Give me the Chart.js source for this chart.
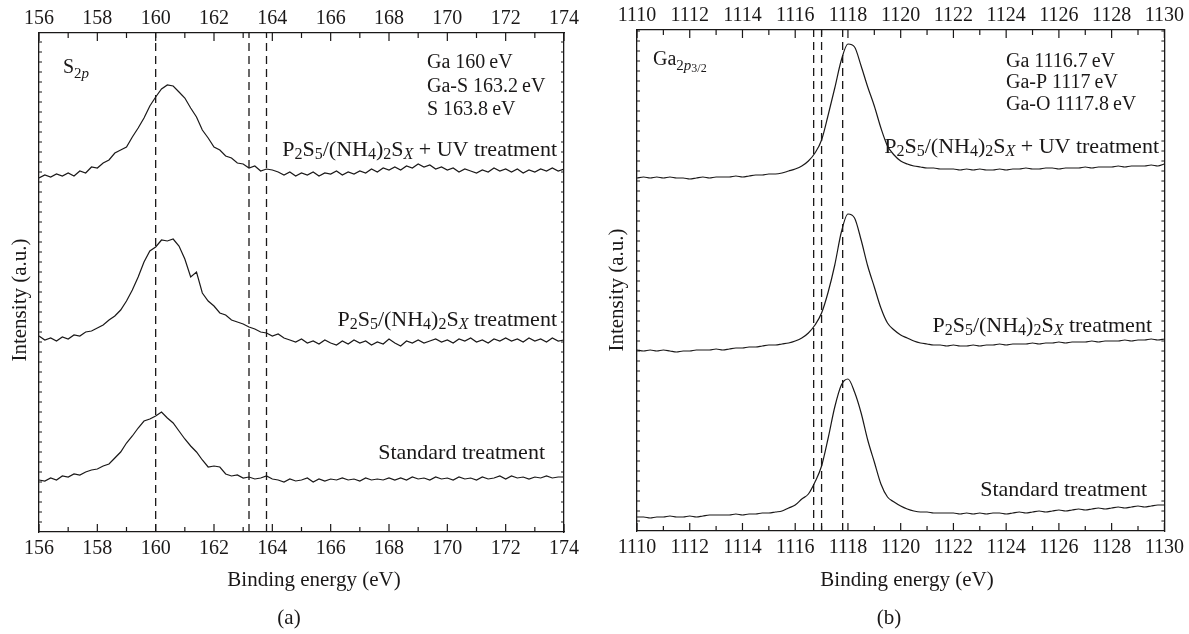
<!DOCTYPE html>
<html>
<head>
<meta charset="utf-8">
<script src="https://cdn.jsdelivr.net/npm/chart.js@4.4.1/dist/chart.umd.min.js"></script>
<style>
html, body { margin: 0; padding: 0; background: #fff; }
#wrap { position: relative; width: 1189px; height: 634px; }
canvas { position: absolute; top: 0; }
#graficoA { left: 0; }
#graficoB { left: 594px; }
</style>
</head>
<body>
<div id="wrap">
    <canvas id="graficoA" width="594" height="634"></canvas>
    <canvas id="graficoB" width="595" height="634"></canvas>
</div>
<script>
// ---- panel (a): S 2p ----
const energiasA = [156,156.2,156.4,156.6,156.8,157,157.2,157.4,157.6,157.8,158,158.2,158.4,158.6,158.8,159,159.2,159.4,159.6,159.8,160,160.2,160.4,160.6,160.8,161,161.2,161.4,161.6,161.8,162,162.2,162.4,162.6,162.8,163,163.2,163.4,163.6,163.8,164,164.2,164.4,164.6,164.8,165,165.2,165.4,165.6,165.8,166,166.2,166.4,166.6,166.8,167,167.2,167.4,167.6,167.8,168,168.2,168.4,168.6,168.8,169,169.2,169.4,169.6,169.8,170,170.2,170.4,170.6,170.8,171,171.2,171.4,171.6,171.8,172,172.2,172.4,172.6,172.8,173,173.2,173.4,173.6,173.8,174];
const uvA = [354,357,355,358,356,359,356,361,359,365, 364,369,372,379,382,385,395,404,414,426, 435,443,447,446,440,434,424,415,402,394, 385,382,376,374,369,368,364,366,361,363, 362,360,357,360,356,359,357,360,356,359, 358,361,357,360,358,361,359,363,360,364, 362,365,362,366,364,368,365,367,363,365, 362,364,360,363,361,359,362,360,364,361, 363,360,363,359,362,360,363,361,364,361, 363];
const p2s5A = [196,192,194,191,195,193,197,196,200,201, 204,207,212,216,222,231,242,255,270,281, 285,292,291,293,286,273,255,260,239,231, 226,219,217,212,210,208,205,203,200,199, 196,198,194,192,190,193,189,191,188,192, 189,187,191,188,192,189,191,187,190,188, 193,189,186,191,189,192,189,191,193,190, 192,189,193,191,194,190,192,189,193,191, 194,191,193,190,194,191,193,190,194,191, 192];
const estandarA = [52,51,54,52,56,55,58,57,60,62, 63,66,68,74,80,89,96,104,111,113, 116,120,114,109,101,93,86,80,72,65, 66,65,58,56,57,54,55,53,54,56, 53,52,50,53,51,52,54,50,53,51, 53,52,54,52,53,51,54,52,53,52, 54,52,54,52,55,53,54,52,55,53, 54,52,55,53,54,52,55,53,54,56, 53,56,54,55,53,55,54,56,54,55, 55];
const picosA = [160, 163.2, 163.8];
const notasA = ['Ga 160\u2009eV', 'Ga-S 163.2\u2009eV', 'S 163.8\u2009eV'];

// ---- panel (b): Ga 2p3/2 ----
const energiasB = [1110,1110.25,1110.5,1110.75,1111,1111.25,1111.5,1111.75,1112,1112.25,1112.5,1112.75,1113,1113.25,1113.5,1113.75,1114,1114.25,1114.5,1114.75,1115,1115.25,1115.5,1115.75,1116,1116.25,1116.5,1116.75,1117,1117.25,1117.5,1117.75,1118,1118.25,1118.5,1118.75,1119,1119.25,1119.5,1119.75,1120,1120.25,1120.5,1120.75,1121,1121.25,1121.5,1121.75,1122,1122.25,1122.5,1122.75,1123,1123.25,1123.5,1123.75,1124,1124.25,1124.5,1124.75,1125,1125.25,1125.5,1125.75,1126,1126.25,1126.5,1126.75,1127,1127.25,1127.5,1127.75,1128,1128.25,1128.5,1128.75,1129,1129.25,1129.5,1129.75,1130];
const uvB = [353,354,353,354, 353,354,353,353, 352,353,354,353, 354,354,354,355, 354,355,356,356, 357,357,358,360, 362,365,370,378, 391,416,443,471, 487,484,465,444, 425,403,385,376, 370,367,365,364, 363,363,362,362, 362,361,362,361, 362,361,361,362, 361,362,362,363, 362,362,363,363, 362,363,363,363, 364,363,364,364, 364,365,364,365, 365,365,366,365, 367];
const p2s5B = [181,180,181,180, 181,180,179,180, 180,181,181,181, 182,181,182,183, 183,184,184,185, 186,186,187,188, 190,193,198,206, 218,239,266,299, 317,313,291,265, 244,223,208,201, 196,193,190,188, 187,186,186,185, 186,185,185,186, 185,186,186,187, 186,187,187,187, 188,187,188,188, 189,188,189,189, 189,190,189,190, 190,190,191,190, 191,191,192,191, 192];
const estandarB = [14,14,13,14, 14,15,14,14, 15,14,15,16, 16,16,16,17, 16,17,17,18, 18,19,20,23, 26,32,37,49, 65,93,124,146, 152,139,118,91, 69,47,34,29, 25,22,20,19, 19,18,18,18, 18,17,18,17, 18,17,18,18, 17,18,19,18, 19,20,19,20, 21,20,21,22, 21,22,23,22, 23,24,23,24, 25,24,25,26, 26];
const picosB = [1116.7, 1117, 1117.8];
const notasB = ['Ga 1116.7\u2009eV', 'Ga-P 1117\u2009eV', 'Ga-O 1117.8\u2009eV'];

const TINTA = '#1a1818';
const SERIF = '"Liberation Serif", "DejaVu Serif", serif';

// etiquetas con subindices: [texto, tipo]
const etiquetaUV = [['P','g'],['2','gs'],['S','g'],['5','gs'],['/(NH','g'],['4','gs'],[')','g'],['2','gs'],['S','g'],['X','gsi'],[' + UV treatment','g']];
const etiquetaP2S5 = [['P','g'],['2','gs'],['S','g'],['5','gs'],['/(NH','g'],['4','gs'],[')','g'],['2','gs'],['S','g'],['X','gsi'],[' treatment','g']];
const etiquetaStd = [['Standard treatment','g']];
const tituloS = [['S','n'],['2','s'],['p','si']];
const tituloGa = [['Ga','n'],['2','s'],['p','si'],['3/2','ss']];

const FUENTES = {
    n: ['20px ' + SERIF, 0],
    t: ['21px ' + SERIF, 0],
    g: ['22px ' + SERIF, 0],
    gs: ['16px ' + SERIF, 5],
    gsi: ['italic 16px ' + SERIF, 5],
    s: ['15px ' + SERIF, 6],
    si: ['italic 15px ' + SERIF, 6],
    ss: ['12px ' + SERIF, 9]
};

function textoRico(ctx, partes, x, y, alinear) {
    ctx.save();
    ctx.fillStyle = TINTA;
    ctx.textBaseline = 'middle';
    ctx.textAlign = 'left';
    let ancho = 0;
    partes.forEach(([t, k]) => { ctx.font = FUENTES[k][0]; ancho += ctx.measureText(t).width; });
    let cx = alinear === 'right' ? x - ancho : alinear === 'center' ? x - ancho / 2 : x;
    partes.forEach(([t, k]) => {
        ctx.font = FUENTES[k][0];
        ctx.fillText(t, cx, y + FUENTES[k][1]);
        cx += ctx.measureText(t).width;
    });
    ctx.restore();
}

const marcoPlugin = {
    id: 'marco',
    afterDraw(chart, args, opts) {
        const { ctx, chartArea: a, scales } = chart;
        const xs = scales.x, ys = scales.y;
        ctx.save();
        ctx.strokeStyle = TINTA;
        ctx.lineWidth = 1.2;
        ctx.beginPath();
        for (let v = Math.ceil(xs.min); v <= xs.max; v++) {
            const px = xs.getPixelForValue(v);
            const largo = v % 2 === 0 ? 8 : 5;
            ctx.moveTo(px, a.bottom); ctx.lineTo(px, a.bottom - largo);
            ctx.moveTo(px, a.top); ctx.lineTo(px, a.top + largo);
        }
        for (let v = ys.min + 10; v < ys.max; v += 10) {
            const py = ys.getPixelForValue(v);
            ctx.moveTo(a.left, py); ctx.lineTo(a.left + 3, py);
            ctx.moveTo(a.right, py); ctx.lineTo(a.right - 3, py);
        }
        ctx.stroke();
        ctx.restore();

        // textos
        textoRico(ctx, opts.titulo, opts.tituloX, opts.tituloY, 'left');
        opts.notas.forEach((n, i) => textoRico(ctx, [[n, 'n']], opts.notasX, opts.notasY[i], 'left'));
        opts.etiquetas.forEach(e => textoRico(ctx, e.partes, e.x, e.y, 'right'));
        textoRico(ctx, [['Binding energy (eV)', 't']], opts.ejeX, 580, 'center');
        textoRico(ctx, [[opts.letra, 't']], opts.letraX, 618, 'center');

        ctx.save();
        ctx.translate(opts.ejeYx, opts.ejeYy);
        ctx.rotate(-Math.PI / 2);
        ctx.fillStyle = TINTA;
        ctx.font = '21px ' + SERIF;
        ctx.textAlign = 'center';
        ctx.textBaseline = 'middle';
        ctx.fillText('Intensity (a.u.)', 0, 0);
        ctx.restore();
    }
};

function crearPanel(id, energias, series, picos, rango, caja, textos, suave) {
    const datasets = series.map(valores => ({
        data: energias.map((e, i) => ({ x: e, y: valores[i] })),
        borderColor: TINTA,
        borderWidth: 1.2,
        pointRadius: 0,
        cubicInterpolationMode: suave ? 'monotone' : 'default',
        tension: 0
    }));
    picos.forEach(p => {
        datasets.push({
            data: [{ x: p, y: rango.yMin }, { x: p, y: rango.yMax }],
            borderColor: TINTA,
            borderWidth: 1.3,
            borderDash: [8, 5],
            pointRadius: 0
        });
    });

    const ticksX = (pad) => ({
        stepSize: 2,
        autoSkip: false,
        maxRotation: 0,
        padding: pad,
        color: TINTA,
        font: { family: SERIF, size: 20 },
        callback: v => String(v)
    });
    const borde = { display: true, color: TINTA, width: 1.3 };
    const sinGrid = { display: false, drawTicks: false };

    new Chart(document.getElementById(id), {
        type: 'line',
        data: { datasets: datasets },
        options: {
            responsive: false,
            animation: false,
            devicePixelRatio: 1,
            layout: { padding: 0 },
            plugins: {
                legend: { display: false },
                tooltip: { enabled: false },
                marco: textos
            },
            scales: {
                x: {
                    type: 'linear', position: 'bottom', min: rango.xMin, max: rango.xMax,
                    ticks: ticksX(5), grid: sinGrid, border: borde,
                    afterFit: s => { s.height = caja.abajo; }
                },
                x2: {
                    type: 'linear', position: 'top', min: rango.xMin, max: rango.xMax,
                    ticks: ticksX(2), grid: sinGrid, border: borde,
                    afterFit: s => { s.height = caja.arriba; }
                },
                y: {
                    min: rango.yMin, max: rango.yMax,
                    ticks: { display: false }, grid: sinGrid, border: borde,
                    afterFit: s => { s.width = caja.izq; }
                },
                y2: {
                    position: 'right', min: rango.yMin, max: rango.yMax,
                    ticks: { display: false }, grid: sinGrid, border: borde,
                    afterFit: s => { s.width = caja.der; }
                }
            }
        },
        plugins: [marcoPlugin]
    });
}

crearPanel('graficoA', energiasA, [uvA, p2s5A, estandarA], picosA,
    { xMin: 156, xMax: 174, yMin: 0, yMax: 499 },
    { arriba: 33, abajo: 102, izq: 39, der: 30 },
    {
        titulo: tituloS, tituloX: 63, tituloY: 68,
        notas: notasA, notasX: 427, notasY: [63, 87, 110],
        etiquetas: [
            { partes: etiquetaUV, x: 557, y: 150 },
            { partes: etiquetaP2S5, x: 557, y: 320 },
            { partes: etiquetaStd, x: 545, y: 453 }
        ],
        ejeX: 314, letra: '(a)', letraX: 289, ejeYx: 20, ejeYy: 300
    }, false);

crearPanel('graficoB', energiasB, [uvB, p2s5B, estandarB], picosB,
    { xMin: 1110, xMax: 1130, yMin: 0, yMax: 501 },
    { arriba: 30, abajo: 103, izq: 43, der: 24 },
    {
        titulo: tituloGa, tituloX: 59, tituloY: 60,
        notas: notasB, notasX: 412, notasY: [62, 83, 105],
        etiquetas: [
            { partes: etiquetaUV, x: 565, y: 147 },
            { partes: etiquetaP2S5, x: 558, y: 326 },
            { partes: etiquetaStd, x: 553, y: 490 }
        ],
        ejeX: 313, letra: '(b)', letraX: 295, ejeYx: 23, ejeYy: 290
    }, true);
</script>
</body>
</html>
